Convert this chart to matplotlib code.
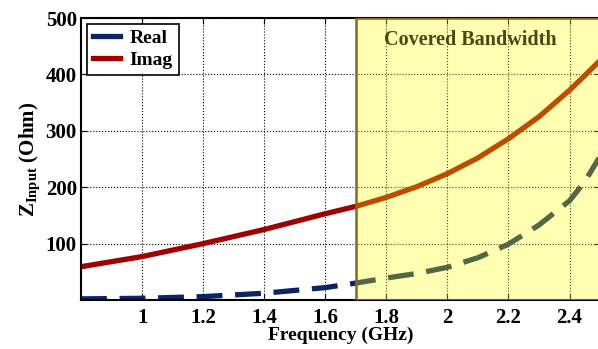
import matplotlib as mpl
mpl.use('Agg')
import matplotlib.pyplot as plt

plt.rcParams['font.family'] = ['Liberation Serif', 'DejaVu Serif']
plt.rcParams['font.weight'] = 'bold'
plt.rcParams['mathtext.fontset'] = 'custom'
plt.rcParams['mathtext.rm'] = 'Liberation Serif:bold'
plt.rcParams['mathtext.bf'] = 'Liberation Serif:bold'

# frequency (GHz) and input impedance (Ohm)
freq = [0.8, 1.0, 1.2, 1.4, 1.6, 1.7, 1.8, 1.9, 2.0, 2.1, 2.2, 2.3, 2.4, 2.45, 2.5]
z_real = [2, 3, 6, 12, 22, 30, 39, 47, 58, 75, 99, 133, 176, 210, 255]
z_imag = [59, 77, 100, 125, 153, 166, 182, 201, 224, 252, 286, 325, 372, 398, 425]

band = (1.7, 2.5)
xticks = [1, 1.2, 1.4, 1.6, 1.8, 2, 2.2, 2.4]
xticklabels = ['1', '1.2', '1.4', '1.6', '1.8', '2', '2.2', '2.4']
yticks = [100, 200, 300, 400, 500]

fig = plt.figure(figsize=(5.98, 3.49), dpi=100)
ax = fig.add_axes([0.1355, 0.1404, 0.868, 0.808])

ax.plot(freq, z_real, color='#0a2464', lw=3.8, ls=(0, (4.9, 2.4)), label='Real', zorder=2)
ax.plot(freq, z_imag, color='#a00000', lw=3.8, label='Imag', zorder=2)

# yellow band drawn over the curves so they look tinted inside it
ax.axvspan(band[0], band[1], facecolor=(1, 1, 0, 0.3), edgecolor='#8b6914',
           lw=1.8, zorder=3)
ax.text(2.075, 461, 'Covered Bandwidth', color='#4a4a10', fontsize=14.5,
        fontweight='bold', ha='center', va='center', zorder=4)

ax.set_xlim(0.8, 2.5)
ax.set_ylim(0, 500)
ax.set_xticks(xticks)
ax.set_xticklabels(xticklabels)
ax.set_yticks(yticks)
ax.tick_params(direction='in', top=True, right=True, labelsize=15, length=4, pad=3)
ax.tick_params(axis='x', pad=6)
ax.grid(True, color='black', ls=':', lw=0.8, zorder=1)
ax.set_axisbelow(True)
for s in ax.spines.values():
    s.set_linewidth(1.5)

ax.set_xlabel('Frequency (GHz)', fontsize=14, fontweight='bold', labelpad=-1)
ax.set_ylabel(r'Z$_{\rm Input}$ (Ohm)', fontsize=15, fontweight='bold', labelpad=2)

leg = ax.legend(loc='upper left', fontsize=14, handlelength=1.4, fancybox=False,
                framealpha=1, edgecolor='black', borderpad=0.3, labelspacing=0.2,
                handletextpad=0.5, borderaxespad=0.3)
leg.get_frame().set_linewidth(1.2)
for h in leg.get_lines():
    h.set_linestyle('-')
leg.set_zorder(5)

fig.savefig('out.png', dpi=100)
